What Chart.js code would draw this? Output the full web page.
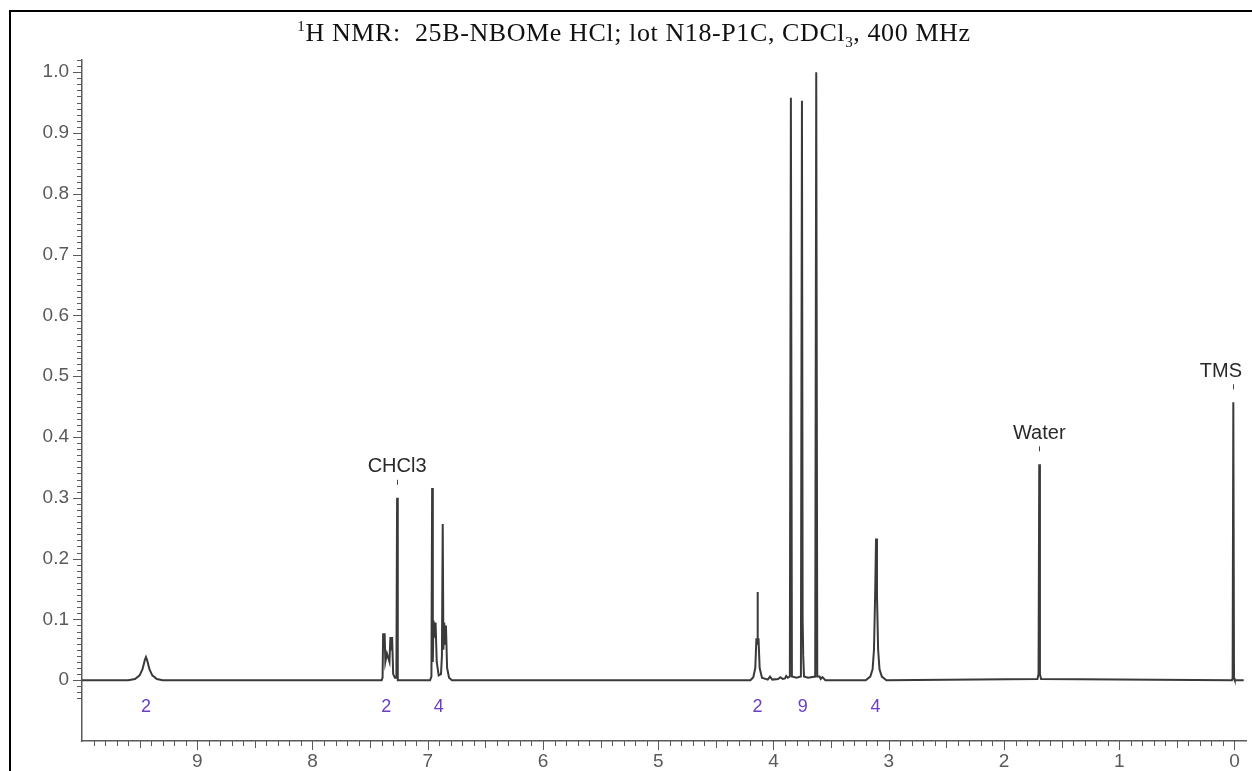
<!doctype html>
<html lang="en">
<head>
  <meta charset="utf-8">
  <title>1H NMR 25B-NBOMe HCl</title>
  <style>
    * {
      margin: 0;
      padding: 0;
    }

    body {
      background: #fff;
    }

    .chartBox {
      position: relative;
      width: 1252px;
      height: 771px;
      overflow: hidden;
    }

    .frame {
      position: absolute;
      left: 9px;
      top: 10px;
      right: -10px;
      bottom: -10px;
      border-top: 2px solid #000;
      border-left: 2px solid #000;
    }

    .title {
      position: absolute;
      left: 0;
      width: 1268px;
      top: 18px;
      text-align: center;
      font-family: "Liberation Serif", serif;
      font-size: 26px;
      letter-spacing: 0.6px;
      color: #111;
      white-space: pre;
    }

    .title sup, .title sub {
      font-size: 15px;
    }

    canvas {
      position: absolute;
      left: 0;
      top: 0;
    }
  </style>
</head>
<body>
<div class="chartBox">
  <canvas id="myChart"></canvas>
  <div class="frame"></div>
  <div class="title"><sup>1</sup>H NMR:  25B-NBOMe HCl; lot N18-P1C, CDCl<sub>3</sub>, 400 MHz</div>
</div>
<script src="https://cdn.jsdelivr.net/npm/chart.js"></script>
<script>
  // chemical shift (ppm) and relative intensity
  const shift = [
    10.0, 9.60, 9.54, 9.50, 9.475, 9.455, 9.445, 9.435, 9.415, 9.39, 9.35, 9.30,
    7.40, 7.392, 7.387, 7.381, 7.374, 7.368, 7.354, 7.332, 7.324, 7.317, 7.309, 7.300, 7.285, 7.272, 7.266, 7.260,
    6.98, 6.968, 6.962, 6.956, 6.950, 6.942, 6.932, 6.922, 6.905, 6.885, 6.877, 6.870, 6.864, 6.857, 6.850, 6.842, 6.832, 6.815, 6.79,
    4.20, 4.175, 4.158, 4.148, 4.143, 4.139, 4.135, 4.130, 4.12, 4.10,
    4.05, 4.03, 4.01, 3.96, 3.94, 3.92, 3.90, 3.89, 3.875,
    3.858, 3.849, 3.840, 3.80, 3.762, 3.753, 3.747, 3.742, 3.735, 3.70,
    3.638, 3.629, 3.620, 3.60, 3.59, 3.575, 3.55,
    3.20, 3.16, 3.14, 3.128, 3.118, 3.110, 3.102, 3.092, 3.08, 3.06, 3.02,
    1.710, 1.700, 1.694, 1.688, 1.678,
    0.022, 0.016, 0.010, 0.004, -0.002, -0.08
  ];
  const intensity = [
    0, 0, 0.002, 0.008, 0.018, 0.033, 0.038, 0.033, 0.018, 0.008, 0.002, 0,
    0, 0.004, 0.077, 0.065, 0.077, 0.03, 0.044, 0.03, 0.071, 0.06, 0.071, 0.01, 0.004, 0.004, 0.30, 0,
    0, 0.006, 0.316, 0.03, 0.098, 0.07, 0.095, 0.03, 0.008, 0.01, 0.04, 0.257, 0.05, 0.095, 0.06, 0.09, 0.02, 0.004, 0,
    0, 0.005, 0.02, 0.069, 0.06, 0.145, 0.06, 0.069, 0.02, 0.004,
    0.001, 0.006, 0.001, 0.002, 0.005, 0.002, 0.003, 0.007, 0.004,
    0.006, 0.958, 0.006, 0.004, 0.006, 0.953, 0.10, 0.04, 0.006, 0.004,
    0.006, 1.0, 0.006, 0.006, 0.002, 0.005, 0,
    0, 0.006, 0.018, 0.05, 0.14, 0.233, 0.14, 0.05, 0.018, 0.006, 0,
    0.002, 0.01, 0.355, 0.01, 0.002,
    0, 0.003, 0.457, 0.003, 0, 0
  ];

  // tick labels
  const xTickLabels = ['9', '8', '7', '6', '5', '4', '3', '2', '1', '0'];
  const yTickLabels = ['0', '0.1', '0.2', '0.3', '0.4', '0.5', '0.6', '0.7', '0.8', '0.9', '1.0'];

  // integrals under the multiplets
  const integralText = ['2', '2', '4', '2', '9', '4'];
  const integralPpm = [9.445, 7.36, 6.905, 4.138, 3.745, 3.115];

  // solvent / reference peaks
  const markerText = ['CHCl3', 'Water', 'TMS'];
  const markerPpm = [7.266, 1.694, 0.010];
  const markerHeight = [0.30, 0.355, 0.457];

  const axisColor = '#5a5a5a';
  const sansFamily = '"Liberation Sans", Arial, sans-serif';

  // ticks, integrals and solvent labels drawn through the chart's own scales
  const nmrDecor = {
    id: 'nmrDecor',
    afterDraw(chart) {
      const {ctx, chartArea, scales: {x, y}} = chart;
      ctx.save();
      ctx.strokeStyle = axisColor;
      ctx.lineWidth = 1;

      // y ticks: minor every 0.01, major every 0.1
      for (let i = -3; i <= 102; i++) {
        const py = Math.round(y.getPixelForValue(i / 100)) + 0.5;
        const len = i % 10 === 0 ? 9 : 5;
        ctx.beginPath();
        ctx.moveTo(chartArea.left, py);
        ctx.lineTo(chartArea.left - len, py);
        ctx.stroke();
      }

      // x ticks: minor 0.1, medium 0.5, major 1
      for (let i = 0; i <= 99; i++) {
        const px = Math.round(x.getPixelForValue(i / 10)) + 0.5;
        const len = i % 10 === 0 ? 9 : (i % 5 === 0 ? 7 : 5);
        ctx.beginPath();
        ctx.moveTo(px, chartArea.bottom);
        ctx.lineTo(px, chartArea.bottom + len);
        ctx.stroke();
      }

      // integrals
      ctx.fillStyle = '#6b3fc4';
      ctx.font = '18px ' + sansFamily;
      ctx.textAlign = 'center';
      ctx.textBaseline = 'middle';
      const iy = y.getPixelForValue(0) + 27;
      integralText.forEach((t, i) => {
        ctx.fillText(t, x.getPixelForValue(integralPpm[i]), iy);
      });

      // solvent markers
      ctx.fillStyle = '#2a2a2a';
      ctx.strokeStyle = '#444';
      ctx.font = '20px ' + sansFamily;
      markerText.forEach((t, i) => {
        const px = x.getPixelForValue(markerPpm[i]);
        const top = y.getPixelForValue(markerHeight[i]);
        ctx.beginPath();
        ctx.moveTo(Math.round(px) + 0.5, top - 18);
        ctx.lineTo(Math.round(px) + 0.5, top - 13);
        ctx.stroke();
        const w = ctx.measureText(t).width;
        const cx = Math.min(px, chartArea.right - 4 - w / 2);
        ctx.fillText(t, cx, top - 31);
      });
      ctx.restore();
    }
  };

  const data = {
    datasets: [{
      label: 'spectrum',
      data: shift.map((s, i) => ({x: s, y: intensity[i]})),
      borderColor: '#3a3a3a',
      borderWidth: 2,
      pointRadius: 0,
      tension: 0,
      fill: false
    }]
  };

  const config = {
    type: 'line',
    data,
    options: {
      responsive: true,
      maintainAspectRatio: false,
      animation: false,
      layout: {
        padding: {top: 60, right: 6, left: 0, bottom: 0}
      },
      plugins: {
        legend: {display: false},
        tooltip: {enabled: false}
      },
      scales: {
        x: {
          type: 'linear',
          reverse: true,
          min: -0.1,
          max: 10.0,
          afterFit: (scale) => { scale.height = 30; },
          afterBuildTicks: (scale) => {
            scale.ticks = xTickLabels.map(t => ({value: Number(t)}));
          },
          grid: {display: false, drawTicks: false},
          border: {display: true, color: axisColor, width: 1.5},
          ticks: {
            padding: 9,
            color: axisColor,
            font: {family: sansFamily, size: 19},
            maxRotation: 0,
            autoSkip: false,
            callback: (v) => String(v)
          }
        },
        y: {
          min: -0.1,
          max: 1.02,
          afterFit: (scale) => { scale.width = 82; },
          afterBuildTicks: (scale) => {
            scale.ticks = yTickLabels.map(t => ({value: Number(t)}));
          },
          grid: {display: false, drawTicks: false},
          border: {display: true, color: axisColor, width: 1.5},
          ticks: {
            padding: 13,
            color: axisColor,
            font: {family: sansFamily, size: 19},
            autoSkip: false,
            callback: (v) => yTickLabels.find(t => Number(t) === v) || ''
          }
        }
      }
    },
    plugins: [nmrDecor]
  };

  const myChart = new Chart(
    document.getElementById('myChart'),
    config
  );
</script>
</body>
</html>
